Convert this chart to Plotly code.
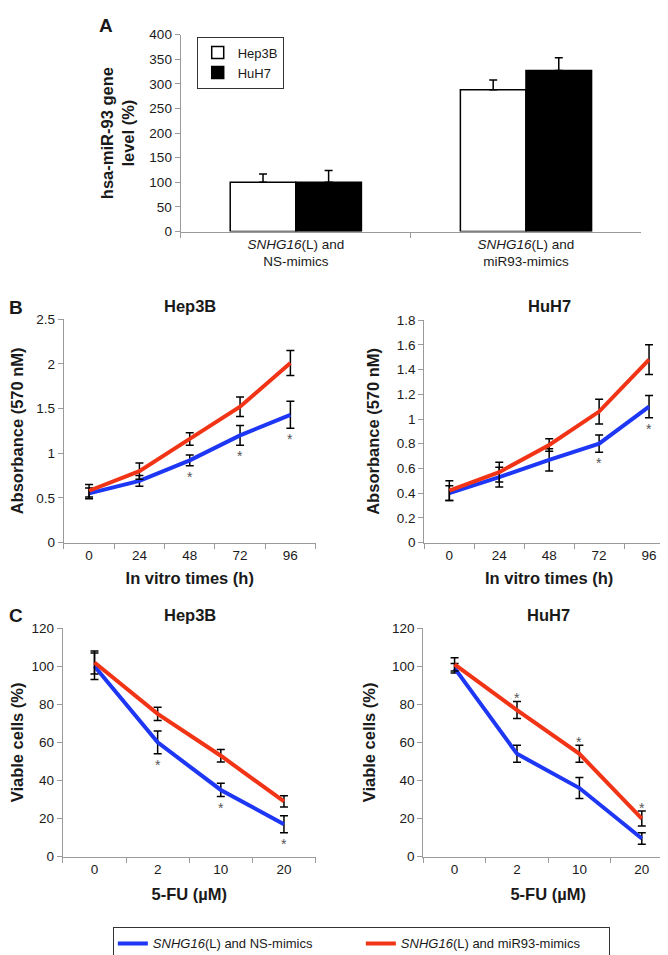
import plotly.graph_objects as go

W, H = 668, 955

def fx(p):
    return p / W

def fy(p):
    return 1 - p / H

# ---------------- Panel A data ----------------
a_groups = ["<i>SNHG16</i>(L) and<br>NS-mimics", "<i>SNHG16</i>(L) and<br>miR93-mimics"]
a_hep3b = [100, 288]
a_hep3b_err = [17, 20]
a_huh7 = [100, 327]
a_huh7_err = [24, 26]
a_ticks = [0, 50, 100, 150, 200, 250, 300, 350, 400]

# ---------------- Panel B data ----------------
b_times = ["0", "24", "48", "72", "96"]
b_hep_ns = [0.55, 0.69, 0.92, 1.20, 1.43]
b_hep_ns_err = [0.06, 0.06, 0.06, 0.11, 0.15]
b_hep_mir = [0.58, 0.80, 1.16, 1.52, 2.01]
b_hep_mir_err = [0.07, 0.09, 0.07, 0.11, 0.14]
b_hep_sig = [0, 0, 1, 1, 1]
b_huh_ns = [0.40, 0.53, 0.67, 0.80, 1.10]
b_huh_ns_err = [0.06, 0.08, 0.09, 0.07, 0.09]
b_huh_mir = [0.42, 0.57, 0.79, 1.06, 1.48]
b_huh_mir_err = [0.08, 0.08, 0.05, 0.10, 0.12]
b_huh_sig = [0, 0, 0, 1, 1]

# ---------------- Panel C data ----------------
c_doses = ["0", "2", "10", "20"]
c_hep_ns = [100, 60, 35, 17]
c_hep_ns_err = [7, 6, 3.5, 4.5]
c_hep_mir = [102, 75, 53, 29]
c_hep_mir_err = [6, 3.5, 3.3, 3]
c_hep_sig = [0, 1, 1, 1]
c_huh_ns = [99, 54, 36, 9.5]
c_huh_ns_err = [2.5, 4.5, 5.5, 3]
c_huh_mir = [101, 77, 54, 20]
c_huh_mir_err = [3.5, 4.5, 4.5, 4]
c_huh_sig = [0, 1, 1, 1]

NS_NAME = "<i>SNHG16</i>(L) and NS-mimics"
MIR_NAME = "<i>SNHG16</i>(L) and miR93-mimics"
BLUE = "rgb(30,55,245)"
RED = "rgb(242,52,22)"
FONT = "Arial, Liberation Sans, sans-serif"
AXC = "#9a9a9a"
TXT = "#1a1a1a"

fig = go.Figure()

# Panel A bars
fig.add_trace(go.Bar(
    x=a_groups, y=a_hep3b, name="Hep3B", xaxis="x", yaxis="y",
    marker=dict(color="white", line=dict(color="black", width=1.5)),
    error_y=dict(type="data", symmetric=False, array=a_hep3b_err, arrayminus=[0] * len(a_hep3b_err),
                 color="black", thickness=1.5, width=4),
    legend="legend",
))
fig.add_trace(go.Bar(
    x=a_groups, y=a_huh7, name="HuH7", xaxis="x", yaxis="y",
    marker=dict(color="black", line=dict(color="black", width=1.5)),
    error_y=dict(type="data", symmetric=False, array=a_huh7_err, arrayminus=[0] * len(a_huh7_err),
                 color="black", thickness=1.5, width=4),
    legend="legend",
))

def add_lines(xs, ns, ns_err, mir, mir_err, xa, ya, show):
    fig.add_trace(go.Scatter(
        x=xs, y=ns, mode="lines", name=NS_NAME, xaxis=xa, yaxis=ya,
        line=dict(color=BLUE, width=4), legend="legend2", legendgroup="ns", showlegend=show,
        error_y=dict(type="data", array=ns_err, color="black", thickness=1.5, width=4),
    ))
    fig.add_trace(go.Scatter(
        x=xs, y=mir, mode="lines", name=MIR_NAME, xaxis=xa, yaxis=ya,
        line=dict(color=RED, width=4), legend="legend2", legendgroup="mir", showlegend=show,
        error_y=dict(type="data", array=mir_err, color="black", thickness=1.5, width=4),
    ))

add_lines(b_times, b_hep_ns, b_hep_ns_err, b_hep_mir, b_hep_mir_err, "x2", "y2", True)
add_lines(b_times, b_huh_ns, b_huh_ns_err, b_huh_mir, b_huh_mir_err, "x3", "y3", False)
add_lines(c_doses, c_hep_ns, c_hep_ns_err, c_hep_mir, c_hep_mir_err, "x4", "y4", False)
add_lines(c_doses, c_huh_ns, c_huh_ns_err, c_huh_mir, c_huh_mir_err, "x5", "y5", False)

annotations = []

def stars_below(vals, errs, sig, xa, ya):
    for i, (v, e, s) in enumerate(zip(vals, errs, sig)):
        if s:
            annotations.append(dict(x=i, y=v - e, xref=xa, yref=ya, text="*", showarrow=False,
                                    yanchor="top", yshift=-1, font=dict(size=14, color="#555", family=FONT)))

def stars_above(vals, errs, sig, xa, ya):
    for i, (v, e, s) in enumerate(zip(vals, errs, sig)):
        if s:
            annotations.append(dict(x=i, y=v + e, xref=xa, yref=ya, text="*", showarrow=False,
                                    yanchor="bottom", yshift=-7, font=dict(size=14, color="#555", family=FONT)))

stars_below(b_hep_ns, b_hep_ns_err, b_hep_sig, "x2", "y2")
stars_below(b_huh_ns, b_huh_ns_err, b_huh_sig, "x3", "y3")
stars_below(c_hep_ns, c_hep_ns_err, c_hep_sig, "x4", "y4")
stars_above(c_huh_mir, c_huh_mir_err, c_huh_sig, "x5", "y5")

def txt(x, y, s, size=16.5, bold=True, angle=0):
    annotations.append(dict(x=fx(x), y=fy(y), xref="paper", yref="paper", text=f"<b>{s}</b>" if bold else s,
                            showarrow=False, textangle=angle, xanchor="center", yanchor="middle",
                            font=dict(size=size, color=TXT, family=FONT)))

# panel letters
txt(97, 11, "A", size=19)
txt(7, 297, "B", size=19)
txt(7, 610, "C", size=19)
# subplot titles
txt(181, 296, "Hep3B")
txt(541, 296, "HuH7")
txt(181, 610, "Hep3B")
txt(540, 610, "HuH7")

fig.update_layout(annotations=annotations)

common_x = dict(type="category", showline=True, linecolor=AXC, linewidth=1.3, ticks="outside",
                tickson="boundaries", tickcolor=AXC, ticklen=5, showgrid=False, zeroline=False,
                tickangle=0, tickfont=dict(size=13.5, color=TXT, family=FONT))
common_y = dict(showline=True, linecolor=AXC, linewidth=1.3, ticks="outside", tickcolor=AXC, ticklen=5,
                showgrid=False, zeroline=False, tickfont=dict(size=13.5, color=TXT, family=FONT))
title_font = dict(size=16.5, color=TXT, family=FONT)

fig.update_layout(
    width=W, height=H, margin=dict(l=0, r=0, t=0, b=0),
    paper_bgcolor="white", plot_bgcolor="white",
    font=dict(family=FONT, size=13, color=TXT),
    barmode="group", bargap=0.43, bargroupgap=0,
    xaxis=dict(common_x, domain=[fx(172), fx(633)], anchor="y", categoryorder="array",
               categoryarray=a_groups, range=[-0.5, len(a_groups) - 0.5]),
    yaxis=dict(common_y, domain=[fy(220), fy(20)], anchor="x", range=[0, 400], tickvals=a_ticks,
               title=dict(text="<b>hsa-miR-93 gene<br>level (%)</b>", font=title_font, standoff=10)),
    xaxis2=dict(common_x, domain=[fx(55), fx(307)], anchor="y2", categoryorder="array",
                categoryarray=b_times, range=[-0.5, len(b_times) - 0.5],
                title=dict(text="<b>In vitro times (h)</b>", font=title_font, standoff=10)),
    yaxis2=dict(common_y, domain=[fy(536), fy(309)], anchor="x2", range=[0, 2.5], dtick=0.5,
                tickformat="~g", title=dict(text="<b>Absorbance (570 nM)</b>", font=title_font, standoff=12)),
    xaxis3=dict(common_x, domain=[fx(416), fx(666)], anchor="y3", categoryorder="array",
                categoryarray=b_times, range=[-0.5, len(b_times) - 0.5],
                title=dict(text="<b>In vitro times (h)</b>", font=title_font, standoff=10)),
    yaxis3=dict(common_y, domain=[fy(536), fy(310)], anchor="x3", range=[0, 1.8], dtick=0.2,
                tickformat="~g", title=dict(text="<b>Absorbance (570 nM)</b>", font=title_font, standoff=12)),
    xaxis4=dict(common_x, domain=[fx(54), fx(307)], anchor="y4", categoryorder="array",
                categoryarray=c_doses, range=[-0.5, len(c_doses) - 0.5],
                title=dict(text="<b>5-FU (µM)</b>", font=title_font, standoff=12)),
    yaxis4=dict(common_y, domain=[fy(855), fy(623)], anchor="x4", range=[0, 120], dtick=20,
                title=dict(text="<b>Viable cells (%)</b>", font=title_font, standoff=12)),
    xaxis5=dict(common_x, domain=[fx(415), fx(665)], anchor="y5", categoryorder="array",
                categoryarray=c_doses, range=[-0.5, len(c_doses) - 0.5],
                title=dict(text="<b>5-FU (µM)</b>", font=title_font, standoff=12)),
    yaxis5=dict(common_y, domain=[fy(855), fy(623)], anchor="x5", range=[0, 120], dtick=20,
                title=dict(text="<b>Viable cells (%)</b>", font=title_font, standoff=12)),
    legend=dict(x=fx(188), y=fy(22), xanchor="left", yanchor="top", orientation="v",
                bordercolor="#333", borderwidth=1, bgcolor="white",
                font=dict(size=13, color=TXT, family=FONT), itemwidth=30, tracegroupgap=2),
    legend2=dict(x=fx(104), y=fy(927), xanchor="left", yanchor="top", orientation="h",
                 bordercolor="#333", borderwidth=1, bgcolor="white",
                 font=dict(size=13, color=TXT, family=FONT), entrywidth=203, itemwidth=30),
)

fig.write_html("out.html")
